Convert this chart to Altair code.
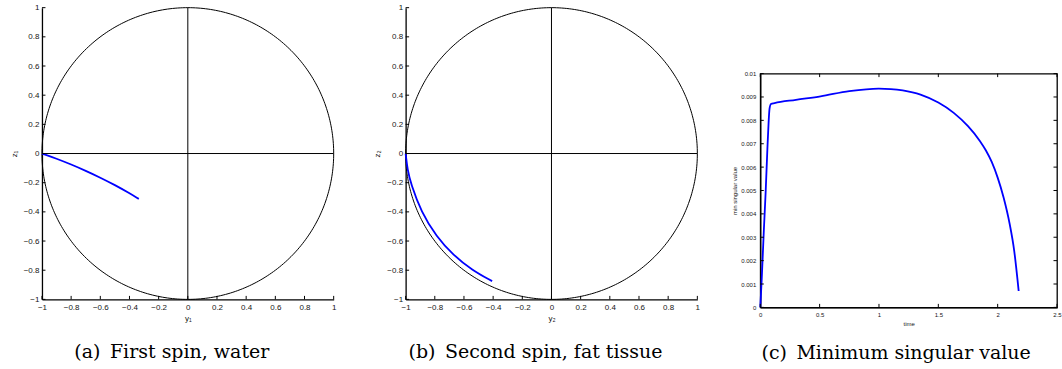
import numpy as np
import pandas as pd
import altair as alt

# ---- data -------------------------------------------------------------
unit_ticks = [-1, -0.8, -0.6, -0.4, -0.2, 0, 0.2, 0.4, 0.6, 0.8, 1]

# first spin (water): trajectory in the (y1, z1) plane
spin1_y = [-1.0, -0.9, -0.8, -0.7, -0.6, -0.5, -0.4, -0.336]
spin1_z = [0.0, -0.035, -0.075, -0.118, -0.165, -0.216, -0.272, -0.311]

# second spin (fat tissue): trajectory in the (y2, z2) plane
spin2_y = [-1.0, -0.9864, -0.9645, -0.8935, -0.788, -0.673, -0.545, -0.407]
spin2_z = [0.0, -0.114, -0.205, -0.400, -0.571, -0.697, -0.799, -0.875]

# minimum singular value over time
time_s = [0, 0.012, 0.03, 0.045, 0.06, 0.07, 0.078, 0.09, 0.12, 0.3, 0.508,
          0.75, 0.998, 1.1, 1.2, 1.35, 1.5, 1.63, 1.75, 1.85, 1.9, 1.95, 2.0,
          2.05, 2.1, 2.14, 2.177]
min_sv = [0, 0.0012, 0.0033, 0.0049, 0.0068, 0.0079, 0.0085, 0.0087, 0.00874,
          0.00888, 0.00903, 0.00925, 0.00936, 0.00934, 0.00928, 0.0091,
          0.00876, 0.00832, 0.00775, 0.00712, 0.00672, 0.00622, 0.00555,
          0.0047, 0.0036, 0.0024, 0.0007]
time_ticks = [0, 0.5, 1, 1.5, 2, 2.5]
sv_ticks = [0, 0.001, 0.002, 0.003, 0.004, 0.005, 0.006, 0.007, 0.008, 0.009, 0.01]

captions = ["(a)\u2002First spin, water",
            "(b)\u2002Second spin, fat tissue",
            "(c)\u2002Minimum singular value"]

# ---- styling ----------------------------------------------------------
SANS = "Liberation Sans"
SERIF = "DejaVu Serif"
LABEL_COLOR = "#161616"
BLUE = "#0000ff"
TICK_LEN = 3.5

# unit circle used as the reference frame of the spin panels
ang = np.linspace(0, 2 * np.pi, 361)
circle_df = pd.DataFrame({"x": np.cos(ang), "y": np.sin(ang), "k": np.arange(ang.size)})
cross_df = pd.DataFrame({"x": [-1, 0], "x2": [1, 0], "y": [0, -1], "y2": [0, 1]})


def axis(title, values, size, pad, tpad):
    return alt.Axis(values=values, title=title, ticks=False, grid=False,
                    format="~g", labelFlush=False, labelOverlap=False,
                    domainColor="black", domainWidth=1.3,
                    labelFont=SANS, labelFontSize=size, labelColor=LABEL_COLOR,
                    labelPadding=pad, titleFont=SANS, titleFontSize=size,
                    titleColor=LABEL_COLOR, titleFontWeight="normal",
                    titlePadding=tpad)


def caption_layer(text, x, y):
    return alt.Chart(pd.DataFrame({"t": [text]})).mark_text(
        font=SERIF, fontSize=19, color="black", align="center",
        baseline="alphabetic").encode(text="t:N", x=alt.value(x), y=alt.value(y))


def spin_panel(h, v, xtitle, ytitle, caption, W=292, H=292):
    sx = alt.Scale(domain=[-1, 1], nice=False, zero=False)
    sy = alt.Scale(domain=[-1, 1], nice=False, zero=False)
    X = alt.X("x:Q", scale=sx, axis=axis(xtitle, unit_ticks, 8, 4, 3))
    Y = alt.Y("y:Q", scale=sy, axis=axis(ytitle, unit_ticks, 8, 3, 5))

    circ = alt.Chart(circle_df).mark_line(color="black", strokeWidth=1).encode(
        x=X, y=Y, order="k:Q")
    cross = alt.Chart(cross_df).mark_rule(color="black", strokeWidth=1).encode(
        x=X, x2="x2:Q", y=Y, y2="y2:Q")
    curve_df = pd.DataFrame({"x": h, "y": v, "k": np.arange(len(h))})
    curve = alt.Chart(curve_df).mark_line(
        color=BLUE, strokeWidth=1.8, interpolate="basis").encode(
        x=X, y=Y, order="k:Q")

    tdf = pd.DataFrame({"x": unit_ticks, "y": unit_ticks})
    yt = alt.Chart(tdf).mark_rule(color="black", strokeWidth=1).encode(
        y=Y, x=alt.value(0), x2=alt.value(TICK_LEN))
    xt = alt.Chart(tdf).mark_rule(color="black", strokeWidth=1).encode(
        x=X, y=alt.value(H), y2=alt.value(H - TICK_LEN))

    cap = caption_layer(caption, 130, H + 59)
    return alt.layer(circ, cross, curve, yt, xt, cap).properties(width=W, height=H)


def sv_panel(W=297, H=234):
    X = alt.X("x:Q", scale=alt.Scale(domain=[0, 2.5], nice=False),
              axis=axis("time", time_ticks, 6, 4, 3))
    Y = alt.Y("y:Q", scale=alt.Scale(domain=[0, 0.01], nice=False),
              axis=axis("min singular value", sv_ticks, 6, 4.5, 3))

    df = pd.DataFrame({"x": time_s, "y": min_sv, "k": np.arange(len(time_s))})
    curve = alt.Chart(df).mark_line(
        color=BLUE, strokeWidth=1.8, interpolate="monotone").encode(
        x=X, y=Y, order="k:Q")

    ydf = pd.DataFrame({"y": sv_ticks})
    xdf = pd.DataFrame({"x": time_ticks})
    rule = dict(color="black", strokeWidth=1)
    t_left = alt.Chart(ydf).mark_rule(**rule).encode(
        y=Y, x=alt.value(0), x2=alt.value(TICK_LEN))
    t_right = alt.Chart(ydf).mark_rule(**rule).encode(
        y=Y, x=alt.value(W), x2=alt.value(W - TICK_LEN))
    t_bot = alt.Chart(xdf).mark_rule(**rule).encode(
        x=X, y=alt.value(H), y2=alt.value(H - TICK_LEN))
    t_top = alt.Chart(xdf).mark_rule(**rule).encode(
        x=X, y=alt.value(0), y2=alt.value(TICK_LEN))

    cap = caption_layer(captions[2], 136, H + 52)
    return alt.layer(curve, t_left, t_right, t_bot, t_top, cap).properties(
        width=W, height=H,
        view=alt.ViewBackground(stroke="black", strokeWidth=1.3))


# empty block that sits above the shorter third panel
spacer = alt.Chart(pd.DataFrame({"x": [0]})).mark_rule(
    strokeOpacity=0).encode(x=alt.value(0), y=alt.value(0), y2=alt.value(1)
).properties(width=297, height=57)

pa = spin_panel(spin1_y, spin1_z, "y\u2081", "z\u2081", captions[0])
pb = spin_panel(spin2_y, spin2_z, "y\u2082", "z\u2082", captions[1])
pc = alt.vconcat(spacer, sv_panel(), spacing=5)

chart = alt.hconcat(
    alt.hconcat(pa, pb, spacing=37),
    pc, spacing=30,
).properties(
    padding={"left": 10, "top": 3.5, "right": 0, "bottom": 0},
    background="white",
).configure_view(stroke=None)

chart.save("out.html", embed_options={"renderer": "svg", "actions": False})
